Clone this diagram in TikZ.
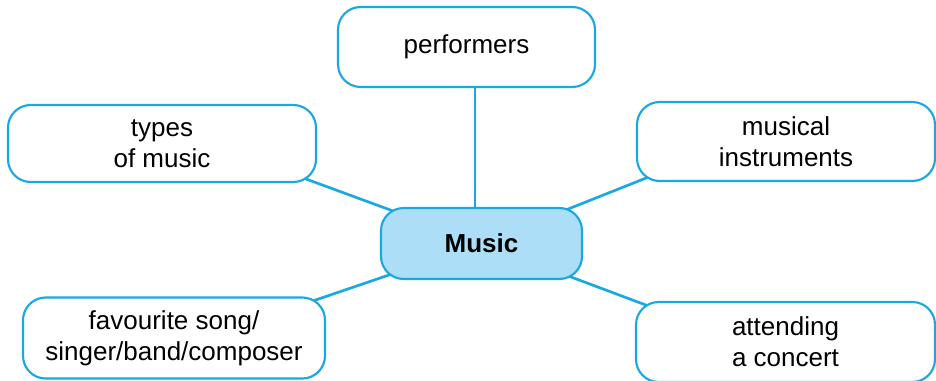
\documentclass[tikz,border=0pt]{standalone}
\usepackage{fontspec}
\setmainfont{Liberation Sans}
\usetikzlibrary{backgrounds,calc}
\definecolor{mapblue}{HTML}{1AA8E0}
\definecolor{mapfill}{HTML}{ACDFF7}
\tikzset{
  topic/.style={draw=mapblue, line width=1.6pt, fill=white, rounded corners=17pt,
    align=center, inner sep=0pt, font=\fontsize{19.5}{23.5}\selectfont},
  link/.style={draw=mapblue, line width=2pt}
}
\newcommand{\topic}[5]{%
 \node[topic, minimum width={#3}, minimum height={#4}] ({#1}) at ({#2}) {#5};%
}

\begin{document}
\begin{tikzpicture}[x=0.75pt, y=-0.75pt]
  \useasboundingbox (0,0) rectangle (936,381);
  \node[topic, fill=mapfill, minimum width=150.75pt, minimum height=53.25pt] (music) at (481.5,243.5) {\textbf{Music}};
  \topic{perf}{466.5,47}{192.75pt}{60pt}{performers};
  \topic{types}{162,143.5}{231pt}{57.75pt}{types\\of music};
  \topic{instr}{786,141.5}{223.5pt}{59.25pt}{musical\\instruments};
  \topic{fav}{174,338}{226.5pt}{60.75pt}{favourite song/\\singer/band/composer};
  \topic{attend}{785.5,342}{224.25pt}{60pt}{attending\\a concert};
  \begin{scope}[on background layer]
   \path[link] ([xshift=-4.9pt]music.center) -- ([xshift=-4.9pt]music.center |- perf.center);
   \path[link] (music.center) -- ($(music.center)!1.2!(types.south east)$);
   \path[link] (music.center) -- ($(music.center)!1.2!(instr.south west)$);
   \path[link] (music.center) -- ($(music.center)!1.2!(fav.north east)$);
   \path[link] (music.center) -- ($(music.center)!1.2!(attend.north west)$);
  \end{scope}
\end{tikzpicture}
\end{document}
